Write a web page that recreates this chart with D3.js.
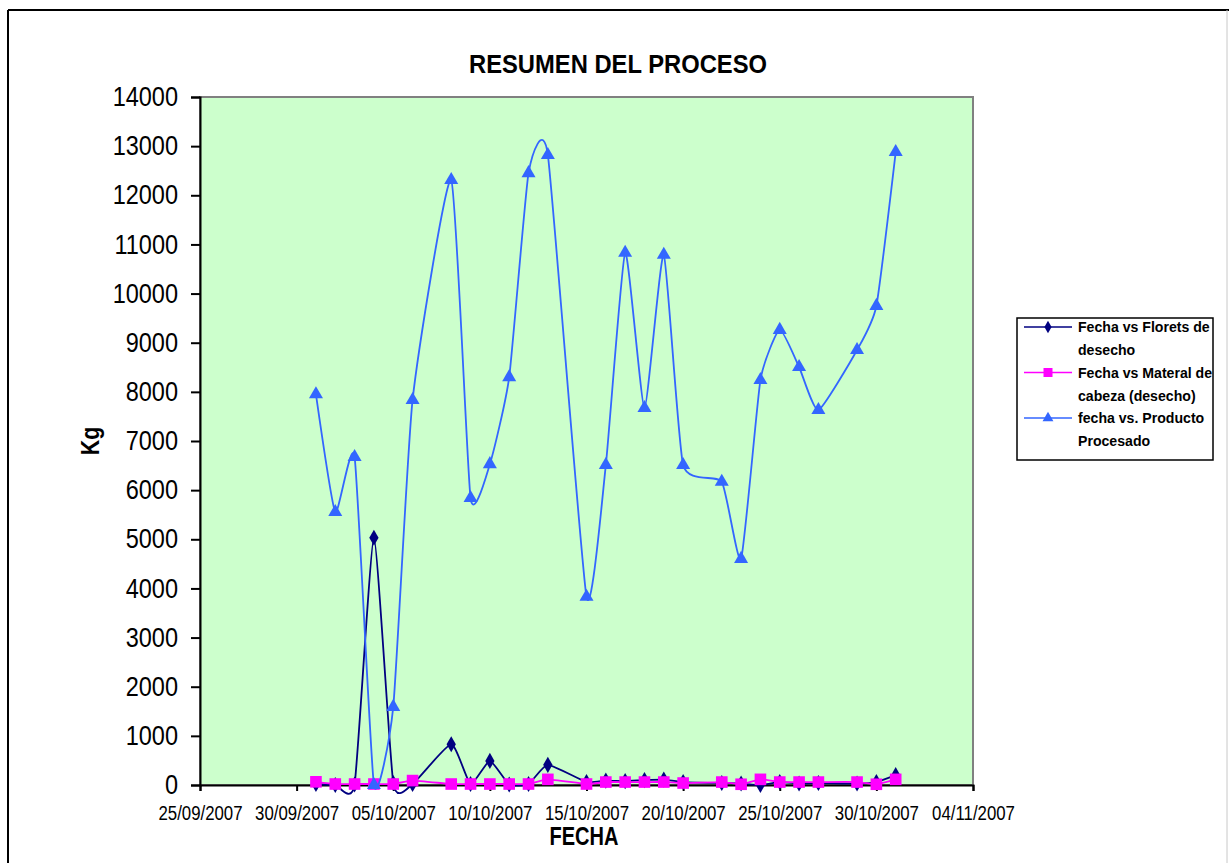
<!DOCTYPE html>
<html>
<head>
<meta charset="utf-8">
<script src="https://cdn.jsdelivr.net/npm/d3@7"></script>
<style>
  body { margin:0; background:#fff; }
  text { font-family:"Liberation Sans",Arial,sans-serif; }
</style>
</head>
<body>
<div id="chart"></div>
<script>
// fechas (dd/mm/yyyy)
var fechas = ["01/10/2007","02/10/2007","03/10/2007","04/10/2007","05/10/2007","06/10/2007",
  "08/10/2007","09/10/2007","10/10/2007","11/10/2007","12/10/2007","13/10/2007",
  "15/10/2007","16/10/2007","17/10/2007","18/10/2007","19/10/2007","20/10/2007",
  "22/10/2007","23/10/2007","24/10/2007","25/10/2007","26/10/2007","27/10/2007",
  "29/10/2007","30/10/2007","31/10/2007"];

var florets = [20,0,10,5030,40,20,
  830,20,490,10,20,410,
  60,90,80,100,110,60,
  40,30,0,60,30,40,
  30,60,200];

var cabeza = [65,20,20,20,20,90,
  20,20,20,20,20,115,
  20,60,60,60,60,40,
  60,15,115,60,60,60,
  60,15,115];

var producto = [7950,5555,6675,0,1590,7835,
  12310,5840,6530,8300,12450,12820,
  3830,6510,10830,7670,10790,6510,
  6170,4600,8240,9260,8506,7631,
  8852,9748,12880];

var xTicks = ["25/09/2007","30/09/2007","05/10/2007","10/10/2007","15/10/2007",
  "20/10/2007","25/10/2007","30/10/2007","04/11/2007"];
var yTicks = [0,1000,2000,3000,4000,5000,6000,7000,8000,9000,10000,11000,12000,13000,14000];

var seriesNames = ["Fecha vs Florets de|desecho","Fecha vs Materal de|cabeza (desecho)","fecha vs. Producto|Procesado"];

(function(){
  var width = 1229, height = 863;
  var parse = d3.timeParse("%d/%m/%Y");

  var svg = d3.select("#chart").append("svg")
    .attr("width", width)
    .attr("height", height);

  // squeeze text to look like a narrow font
  function narrow(sel, perChar){
    sel.each(function(){
      var t = d3.select(this);
      var w = this.getComputedTextLength();
      t.attr("textLength", w*perChar).attr("lengthAdjust","spacingAndGlyphs");
    });
  }

  // outer frame
  svg.append("line").attr("x1",8).attr("x2",1229).attr("y1",10).attr("y2",10)
    .attr("stroke","#000").attr("stroke-width",2);
  svg.append("line").attr("x1",8).attr("x2",8).attr("y1",10).attr("y2",863)
    .attr("stroke","#000").attr("stroke-width",2);
  svg.append("line").attr("x1",1227).attr("x2",1227).attr("y1",10).attr("y2",863)
    .attr("stroke","#c8c8c8").attr("stroke-width",1);

  var left = 200, right = 973, top = 97, bottom = 785;

  var x = d3.scaleTime()
    .domain([parse(xTicks[0]), parse(xTicks[xTicks.length-1])])
    .range([left, right]);
  var y = d3.scaleLinear()
    .domain([0, 14000])
    .range([bottom, top]);

  // plot area
  svg.append("rect")
    .attr("x", left).attr("y", top)
    .attr("width", right-left).attr("height", bottom-top)
    .attr("fill", "#ccffcc")
    .attr("stroke", "#808080")
    .attr("stroke-width", 2);

  // title
  svg.append("text")
    .attr("x", 618).attr("y", 73)
    .attr("text-anchor","middle")
    .attr("font-size", 25).attr("font-weight","bold")
    .attr("textLength", 298).attr("lengthAdjust","spacingAndGlyphs")
    .text("RESUMEN DEL PROCESO");

  // y axis
  var yAxis = svg.append("g")
    .attr("transform","translate(" + left + ",0)")
    .call(d3.axisLeft(y).tickValues(yTicks).tickSize(9).tickPadding(13).tickFormat(d3.format("d")));
  yAxis.select(".domain").attr("stroke","#000").attr("stroke-width",2);
  yAxis.selectAll(".tick line").attr("stroke","#000").attr("stroke-width",2);
  yAxis.selectAll("text").attr("font-size",27).attr("fill","#000");
  narrow(yAxis.selectAll("text"), 0.87);

  // x axis
  var xAxis = svg.append("g")
    .attr("transform","translate(0," + bottom + ")")
    .call(d3.axisBottom(x).tickValues(xTicks.map(parse)).tickSize(6).tickPadding(14)
      .tickFormat(d3.timeFormat("%d/%m/%Y")));
  xAxis.select(".domain").attr("stroke","#000").attr("stroke-width",2);
  xAxis.selectAll(".tick line").attr("stroke","#000").attr("stroke-width",2);
  xAxis.selectAll("text").attr("font-size",20.5).attr("fill","#000");
  narrow(xAxis.selectAll("text"), 0.82);

  // axis titles
  narrow(svg.append("text")
    .attr("x", 584).attr("y", 845)
    .attr("text-anchor","middle")
    .attr("font-size", 26).attr("font-weight","bold")
    .text("FECHA"), 0.77);
  narrow(svg.append("text")
    .attr("transform","translate(99,441) rotate(-90)")
    .attr("text-anchor","middle")
    .attr("font-size", 26).attr("font-weight","bold")
    .text("Kg"), 0.82);

  var dates = fechas.map(parse);
  var series = [
    {values: florets, color:"#000080", symbol:d3.symbolDiamond, size:75, width:1.8},
    {values: cabeza, color:"#ff00ff", symbol:d3.symbolSquare, size:135, width:1.8},
    {values: producto, color:"#3366ff", symbol:d3.symbolTriangle, size:85, width:1.8}
  ];

  var line = d3.line()
    .x(function(d){ return x(d.date); })
    .y(function(d){ return y(d.v); })
    .curve(d3.curveCardinal.tension(0.5));

  series.forEach(function(s, i){
    var pts = dates.map(function(d, j){ return {date:d, v:s.values[j]}; });
    var g = svg.append("g").attr("class","series" + i);
    g.append("path")
      .datum(pts)
      .attr("d", line)
      .attr("fill","none")
      .attr("stroke", s.color)
      .attr("stroke-width", s.width);
    g.selectAll("path.mk")
      .data(pts)
      .enter().append("path")
      .attr("class","mk")
      .attr("transform", function(d){ return "translate(" + x(d.date) + "," + y(d.v) + ")"; })
      .attr("d", d3.symbol().type(s.symbol).size(s.size))
      .attr("fill", s.color);
  });

  // legend
  var lg = svg.append("g");
  lg.append("rect")
    .attr("x",1017).attr("y",318).attr("width",196).attr("height",142)
    .attr("fill","#fff").attr("stroke","#000").attr("stroke-width",1.5);
  series.forEach(function(s, i){
    var yy = 327 + i*45.5;
    lg.append("line").attr("x1",1024).attr("x2",1072).attr("y1",yy).attr("y2",yy)
      .attr("stroke", s.color).attr("stroke-width",1.6);
    lg.append("path")
      .attr("transform","translate(1048," + yy + ")")
      .attr("d", d3.symbol().type(s.symbol).size(s.size*0.6))
      .attr("fill", s.color);
    var parts = seriesNames[i].split("|");
    parts.forEach(function(p, k){
      narrow(lg.append("text")
        .attr("x",1078).attr("y", yy + 5 + k*23)
        .attr("font-size",15.5)
        .attr("font-weight","bold")
        .attr("fill","#000")
        .text(p), 0.91);
    });
  });
})();
</script>
</body>
</html>
